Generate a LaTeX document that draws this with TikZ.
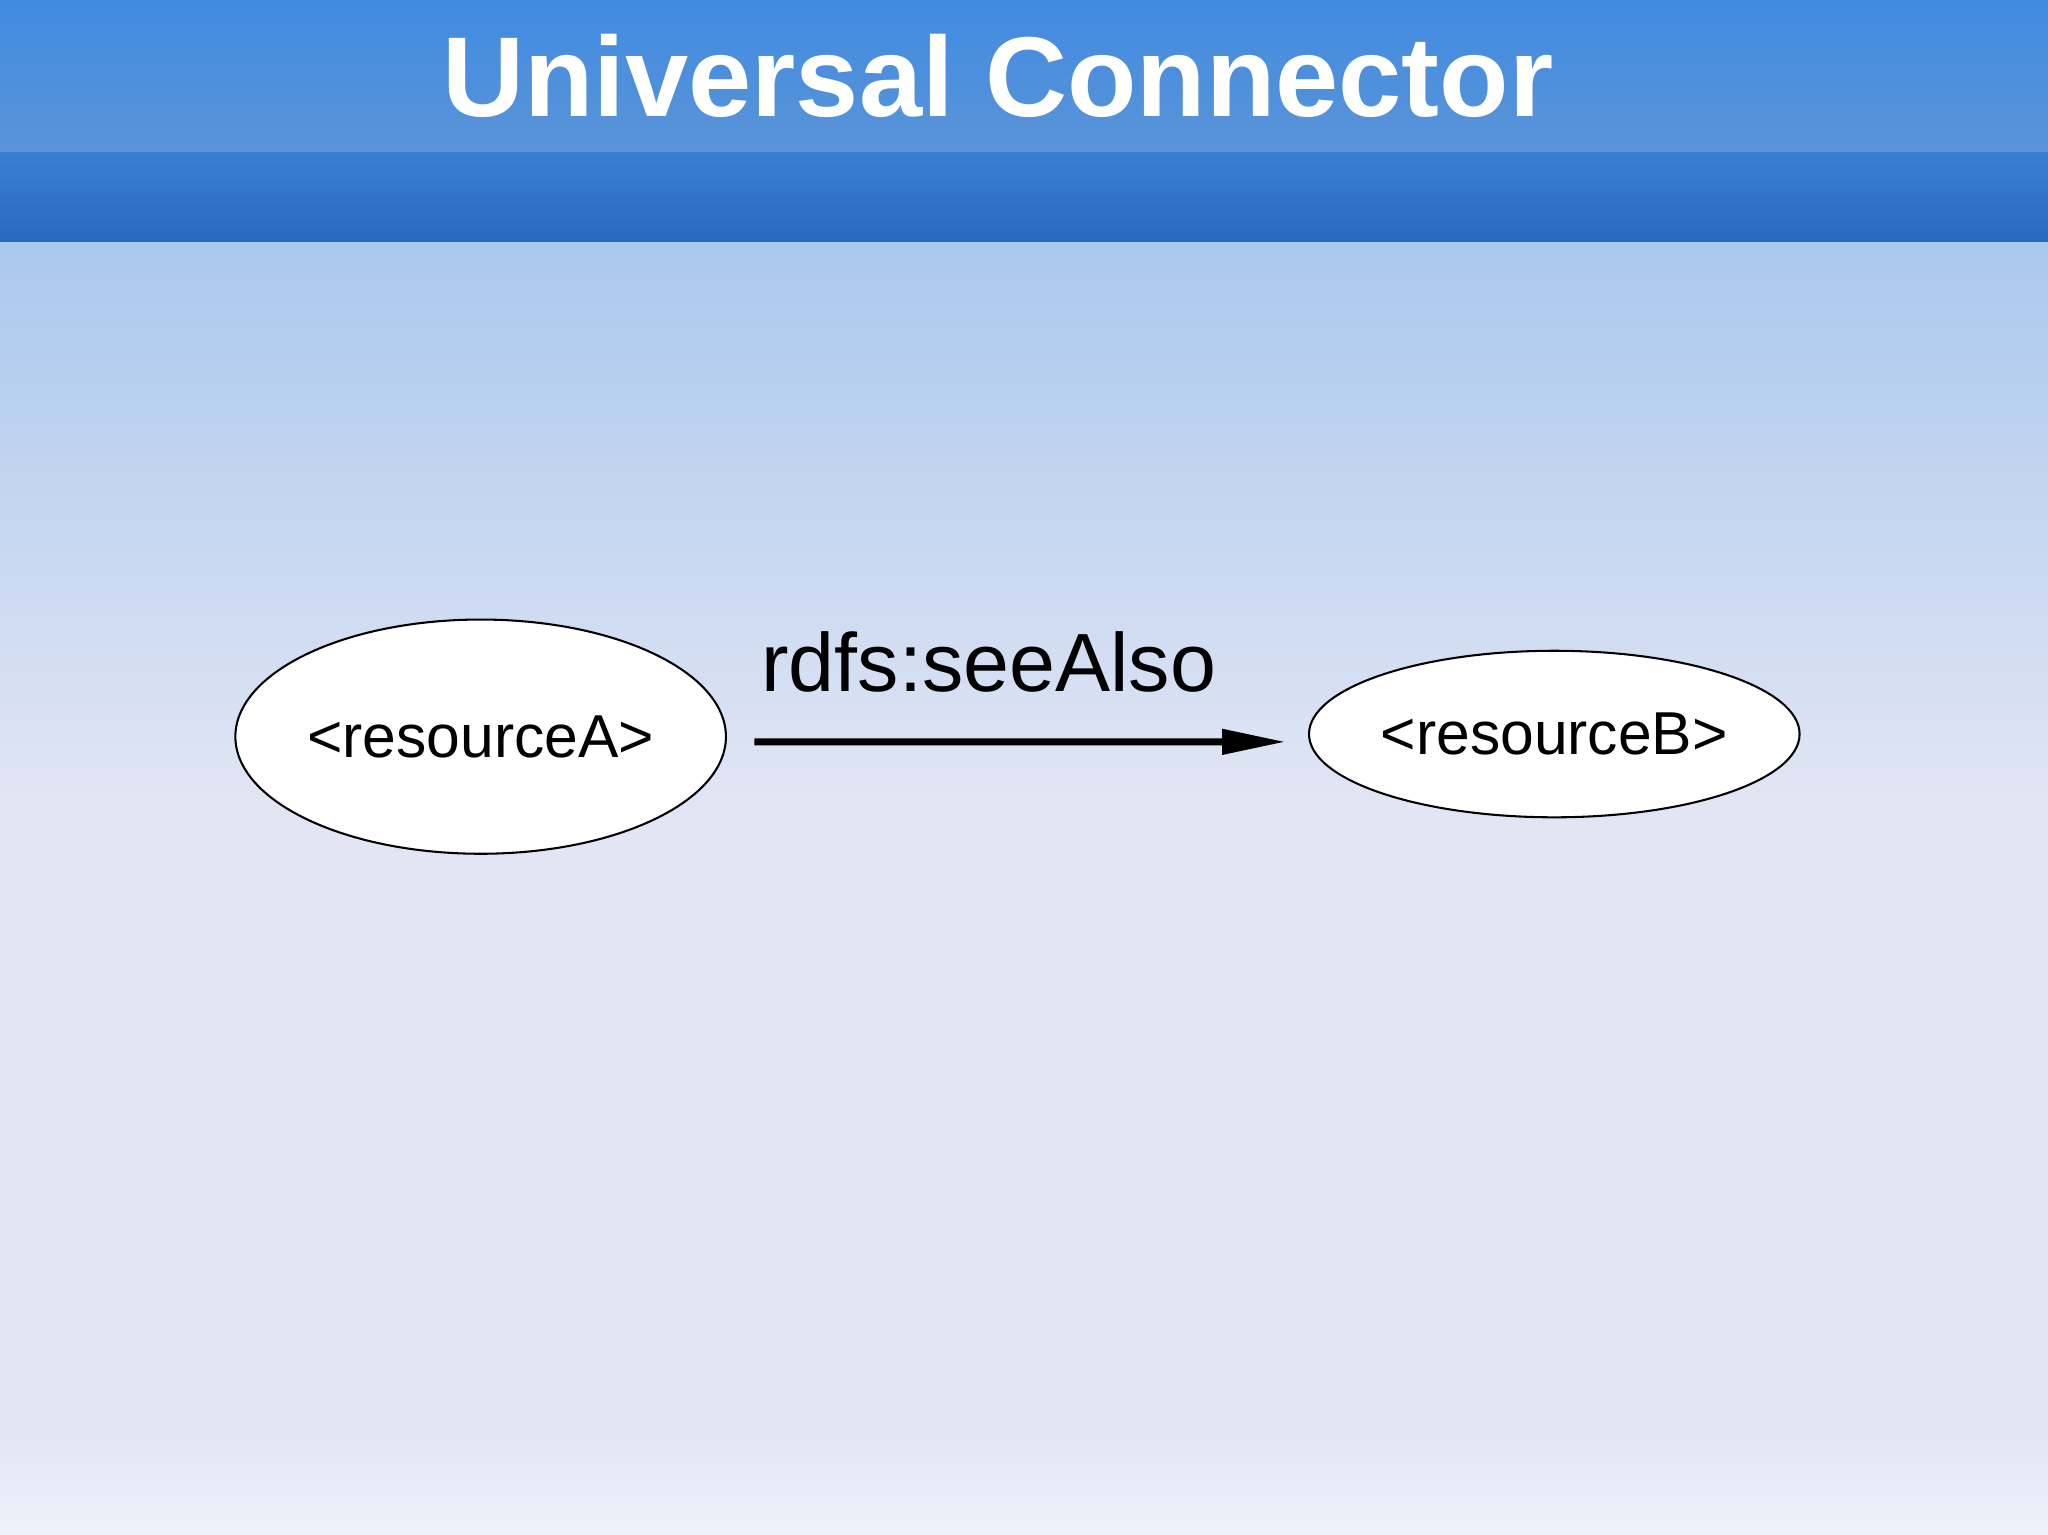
\documentclass[tikz,border=0pt]{standalone}
\usepackage{fontspec}
\setmainfont{Liberation Sans}
\usetikzlibrary{arrows.meta,shapes.geometric}
\definecolor{bgA}{HTML}{AAC8EE}
\definecolor{bgB}{HTML}{E2E6F4}
\definecolor{bgC}{HTML}{EEF2FA}
\definecolor{tA}{HTML}{418BE0}
\definecolor{tB}{HTML}{5A94D8}
\definecolor{tC}{HTML}{3A7FD2}
\definecolor{tD}{HTML}{2A68BE}
\tikzset{res/.style={draw=black,fill=white,ellipse,line width=0.9pt,inner sep=0pt,font=\fontsize{26.4}{30}\selectfont}}
\begin{document}
\begin{tikzpicture}[x=0.02cm,y=-0.02cm]
\useasboundingbox (0,0) rectangle (1568,1175);
\shade[top color=bgA,bottom color=bgB] (0,185) rectangle (1568,620);
\fill[bgB] (0,619) rectangle (1568,1100);
\shade[top color=bgB,bottom color=bgC] (0,1099) rectangle (1568,1175);
\shade[top color=tA,bottom color=tB] (0,0) rectangle (1568,117);
\shade[top color=tC,bottom color=tD] (0,117) rectangle (1568,185);
\node[text=white,font=\fontsize{49.5}{54}\bfseries\selectfont] (title) at (764,58) {Universal Connector};
\node[res,minimum width=358*0.567pt,minimum height=180*0.567pt] (A) at (368,564) {<resourceA>};
\node[res,minimum width=356*0.567pt,minimum height=128*0.567pt] (B) at (1190,562) {<resourceB>};
\node[font=\fontsize{36}{40}\selectfont] (lbl) at (757,507) {rdfs:seeAlso};
\draw[line width=3.1pt,-{Triangle[length=27.8pt,width=10.5pt]},shorten <=21*0.567pt,shorten >=17*0.567pt] ([yshift=-4*0.567pt]A.east) -- ([yshift=-6*0.567pt]B.west);
\end{tikzpicture}
\end{document}
